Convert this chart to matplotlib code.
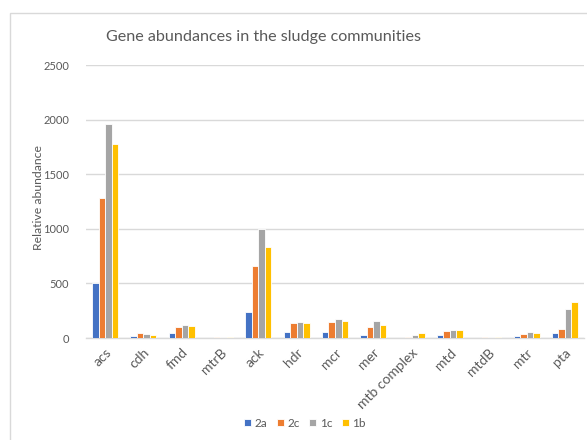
import matplotlib
matplotlib.use("Agg")
import matplotlib.pyplot as plt
from matplotlib.patches import Rectangle
import numpy as np

genes = ["acs", "cdh", "fmd", "mtrB", "ack", "hdr", "mcr", "mer",
         "mtb complex", "mtd", "mtdB", "mtr", "pta"]
series_names = ["2a", "2c", "1c", "1b"]
s_2a = [508, 20, 46, 0, 235, 55, 55, 30, 2, 30, 0, 21, 43]
s_2c = [1278, 43, 103, 12, 659, 140, 146, 98, 9, 67, 5, 37, 85]
s_1c = [1958, 34, 116, 10, 995, 143, 177, 159, 30, 73, 5, 55, 268]
s_1b = [1777, 27, 113, 10, 833, 134, 159, 119, 43, 73, 7, 49, 327]
colors = ["#4472C4", "#ED7D31", "#A5A5A5", "#FFC000"]

plt.rcParams["font.family"] = ["Lato", "DejaVu Sans"]
text_color = "#595959"
grid_color = "#d9d9d9"

fig = plt.figure(figsize=(5.87, 4.4), dpi=100)
fig.patch.set_facecolor("white")

# chart area border
fig.patches.append(Rectangle((10 / 587, -0.05), 1.2, 1 - 13 / 440 + 0.05,
                             transform=fig.transFigure, fill=False,
                             edgecolor=grid_color, linewidth=1.0, zorder=0))

ax = fig.add_axes([86 / 587, 1 - 338 / 440, (584 - 86) / 587, (338 - 65) / 440])

x = np.arange(len(genes))
bw = 0.17
all_series = [s_2a, s_2c, s_1c, s_1b]
for i, (vals, name, c) in enumerate(zip(all_series, series_names, colors)):
    ax.bar(x + (i - 1.5) * bw, vals, width=bw, color=c, label=name,
           edgecolor="white", linewidth=0.6, zorder=3)

ax.set_xlim(-0.5, len(genes) - 0.5)
ax.set_ylim(0, 2500)
ax.set_yticks(np.arange(0, 2501, 500))
ax.yaxis.grid(True, color=grid_color, linewidth=1.0, zorder=0)
ax.set_axisbelow(True)
for sp in ["top", "right", "left"]:
    ax.spines[sp].set_visible(False)
ax.spines["bottom"].set_color(grid_color)
ax.spines["bottom"].set_linewidth(1.0)
ax.tick_params(axis="both", length=0, colors=text_color, labelsize=8)
ax.tick_params(axis="y", pad=12)
ax.set_xticks(x)
ax.set_xticklabels(genes, rotation=45, ha="right", rotation_mode="anchor",
                   fontsize=10)
ax.tick_params(axis="x", pad=6)

fig.text(38 / 587, 1 - 197 / 440, "Relative abundance", rotation=90,
         ha="center", va="center", color=text_color, fontsize=8.8)
fig.text(264 / 587, 1 - 37 / 440, "Gene abundances in the sludge communities",
         ha="center", va="center", color=text_color, fontsize=11.6)

fig.legend(loc="center", bbox_to_anchor=(305 / 587, 1 - 423 / 440), ncol=4,
           frameon=False, fontsize=8.5, handlelength=0.6, handleheight=0.6,
           handletextpad=0.3, columnspacing=0.8, labelcolor=text_color)

fig.savefig("out.png", dpi=100)
